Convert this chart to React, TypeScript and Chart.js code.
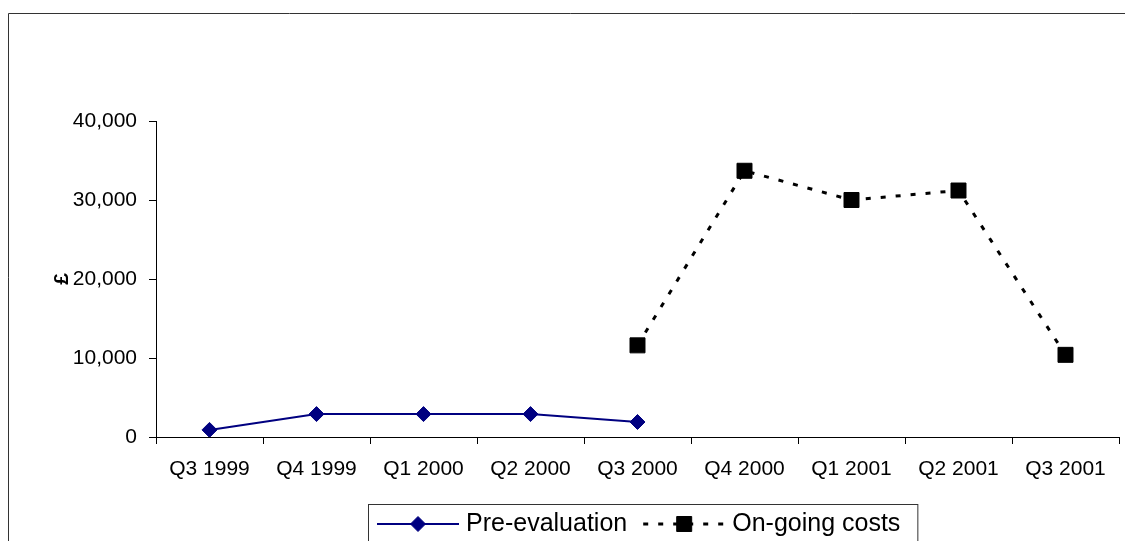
import { useEffect, useRef } from "react";
import { Chart, registerables } from "chart.js";
import { drawPoint } from "chart.js/helpers";

Chart.register(...registerables);

// Quarterly spend, in pounds
const quarters = [
  "Q3 1999",
  "Q4 1999",
  "Q1 2000",
  "Q2 2000",
  "Q3 2000",
  "Q4 2000",
  "Q1 2001",
  "Q2 2001",
  "Q3 2001",
];
const preEvaluation = [900, 2900, 2900, 2900, 1900, null, null, null, null];
const onGoingCosts = [null, null, null, null, 11600, 33700, 30000, 31200, 10400];
const yTicks = [0, 10000, 20000, 30000, 40000];

const FONT = '"Liberation Sans", Arial, Helvetica, sans-serif';

// Thin frame along the top and left edges of the canvas
const framePlugin = {
  id: "frame",
  beforeDraw(chart: any) {
    const { ctx, width, height } = chart;
    ctx.save();
    ctx.strokeStyle = "#333";
    ctx.lineWidth = 1;
    ctx.beginPath();
    ctx.moveTo(0.5, height);
    ctx.lineTo(0.5, 5.5);
    ctx.lineTo(width, 5.5);
    ctx.stroke();
    ctx.restore();
  },
};

// Boxed legend with a line sample and its marker for each series
const boxedLegendPlugin = {
  id: "boxedLegend",
  afterDraw(chart: any) {
    const { ctx } = chart;
    const left = 360;
    const top = 496;
    const padL = 9;
    const padR = 17;
    const sampleW = 82;
    const gap = 7;
    const itemGap = 16;
    const cy = 516;
    ctx.save();
    ctx.font = `25px ${FONT}`;
    let x = left + padL;
    chart.data.datasets.forEach((ds: any) => {
      ctx.beginPath();
      ctx.setLineDash(ds.borderDash || []);
      ctx.lineWidth = ds.borderWidth;
      ctx.strokeStyle = ds.borderColor;
      ctx.moveTo(x, cy);
      ctx.lineTo(x + sampleW, cy);
      ctx.stroke();
      ctx.setLineDash([]);
      ctx.fillStyle = ds.pointBackgroundColor;
      ctx.strokeStyle = ds.pointBorderColor;
      ctx.lineWidth = ds.pointBorderWidth;
      drawPoint(
        ctx,
        {
          pointStyle: ds.pointStyle,
          radius: ds.pointRadius,
          rotation: 0,
          borderWidth: ds.pointBorderWidth,
        },
        x + sampleW / 2,
        cy
      );
      ctx.fillStyle = "#000";
      ctx.textBaseline = "middle";
      ctx.textAlign = "left";
      const tx = x + sampleW + gap;
      ctx.fillText(ds.label, tx, cy);
      x = tx + ctx.measureText(ds.label).width + itemGap;
    });
    const right = x - itemGap + padR;
    ctx.strokeStyle = "#333";
    ctx.lineWidth = 1;
    ctx.strokeRect(left + 0.5, top + 0.5, right - left, 100);
    ctx.restore();
  },
};

export default function App() {
  const canvasRef = useRef<HTMLCanvasElement | null>(null);

  useEffect(() => {
    if (!canvasRef.current) return;
    const chart = new Chart(canvasRef.current, {
      type: "line",
      data: {
        labels: quarters,
        datasets: [
          {
            label: "Pre-evaluation",
            data: preEvaluation,
            borderColor: "#000080",
            backgroundColor: "#000080",
            borderWidth: 2,
            tension: 0,
            pointStyle: "rectRot",
            pointRadius: 7.5,
            pointBackgroundColor: "#000080",
            pointBorderColor: "#000080",
            pointBorderWidth: 1,
            spanGaps: false,
          },
          {
            label: "On-going costs",
            data: onGoingCosts,
            borderColor: "#000",
            backgroundColor: "#000",
            borderWidth: 3,
            borderDash: [5, 10],
            tension: 0,
            pointStyle: "rect",
            pointRadius: 10.6,
            pointBackgroundColor: "#000",
            pointBorderColor: "#000",
            pointBorderWidth: 1,
            spanGaps: false,
          },
        ],
      },
      options: {
        animation: false,
        responsive: false,
        events: [],
        layout: { padding: { top: 113, right: 14, left: 0, bottom: 0 } },
        plugins: {
          legend: { display: false },
          tooltip: { enabled: false },
        },
        scales: {
          x: {
            type: "category",
            offset: true,
            grid: {
              display: true,
              drawOnChartArea: false,
              drawTicks: true,
              tickLength: 7,
              offset: true,
              color: "#000",
              lineWidth: 1,
            },
            border: { display: true, color: "#000", width: 1 },
            ticks: {
              color: "#000",
              font: { family: FONT, size: 21 },
              padding: 13,
              maxRotation: 0,
              autoSkip: false,
            },
            afterFit: (s: any) => {
              s.height = 104;
            },
          },
          y: {
            min: 0,
            max: 40000,
            afterBuildTicks: (s: any) => {
              s.ticks = yTicks.map((v) => ({ value: v }));
            },
            grid: {
              display: true,
              drawOnChartArea: false,
              drawTicks: true,
              tickLength: 7,
              color: "#000",
              lineWidth: 1,
            },
            border: { display: true, color: "#000", width: 1 },
            ticks: {
              color: "#000",
              font: { family: FONT, size: 21 },
              padding: 12,
              callback: (v: any) => Number(v).toLocaleString("en-GB"),
            },
            title: {
              display: true,
              text: "£",
              color: "#000",
              font: { family: FONT, size: 21, weight: "bold" },
              padding: { top: 42, bottom: 0 },
            },
            afterFit: (s: any) => {
              s.width = 148;
            },
          },
        },
      },
      plugins: [framePlugin, boxedLegendPlugin],
    });
    return () => chart.destroy();
  }, []);

  return (
    <canvas
      ref={canvasRef}
      width={1125}
      height={533}
      style={{ display: "block", width: 1125, height: 533 }}
    />
  );
}
